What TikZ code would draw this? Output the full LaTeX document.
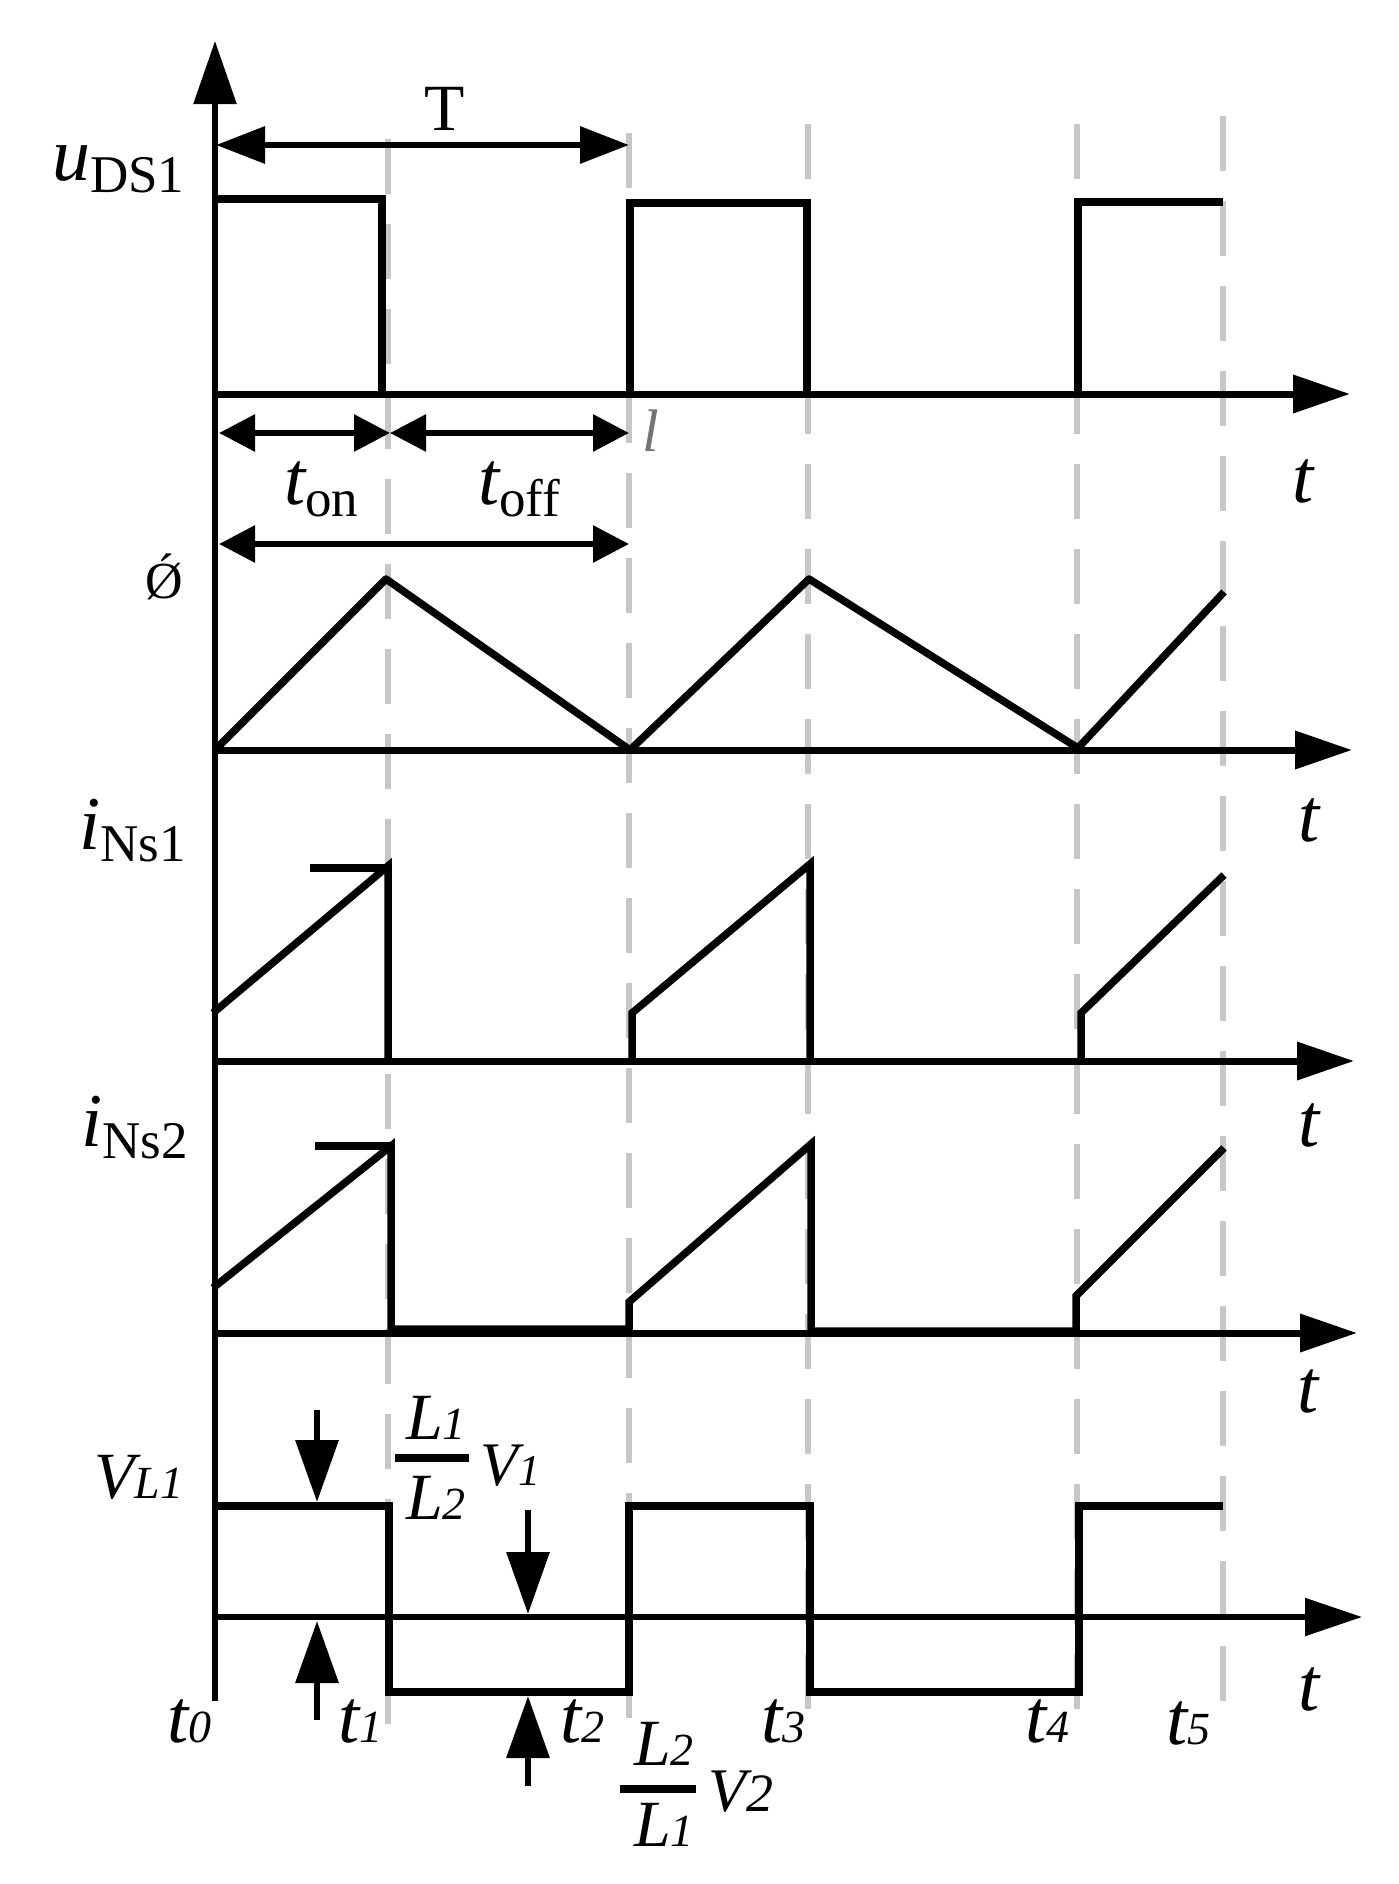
\documentclass[tikz,border=0pt]{standalone}
\usepackage{fontspec}
\setmainfont{Liberation Serif}
\usepackage{tikz}
\usetikzlibrary{arrows.meta,calc}
\tikzstyle{wave}=[line width=7.5pt,line cap=butt,line join=miter]
\tikzstyle{tline}=[line width=7pt,-{Triangle[length=57pt,width=37pt]}]
\tikzstyle{guide}=[line width=6pt,color=black!22,dash pattern=on 55pt off 30pt]
\tikzstyle{span}=[line width=6pt,{Triangle[length=36pt,width=36pt]}-{Triangle[length=36pt,width=36pt]}]
\tikzstyle{pin}=[line width=6.5pt,-{Triangle[length=62pt,width=42pt]}]
\tikzstyle{lbl}=[inner sep=0pt,anchor=base west]
\newcommand{\bigit}[1]{{\fontsize{76}{76}\selectfont\itshape #1}}
\newcommand{\lowrm}[1]{\raisebox{-12pt}{\fontsize{53}{53}\selectfont #1}}
\newcommand{\midit}[1]{{\fontsize{66}{66}\selectfont\itshape #1}}
\newcommand{\numit}[1]{{\fontsize{46}{46}\selectfont\itshape #1}}

\begin{document}
\begin{tikzpicture}[x=1pt,y=-1pt]
	\useasboundingbox (0,0) rectangle (1398,1884);

	\coordinate (g1a) at (388,139);
	\coordinate (g1b) at (388,1725);
	\coordinate (g2a) at (629,133);
	\coordinate (g2b) at (629,1720);
	\coordinate (g3a) at (808,124);
	\coordinate (g3b) at (808,1711);
	\coordinate (g4a) at (1077,124);
	\coordinate (g4b) at (1077,1710);
	\coordinate (g5a) at (1223,116);
	\coordinate (g5b) at (1223,1702);

	\draw[guide] (g1a) -- (g1b);
	\draw[guide] (g2a) -- (g2b);
	\draw[guide] (g3a) -- (g3b);
	\draw[guide] (g4a) -- (g4b);
	\draw[guide] (g5a) -- (g5b);

	% axes
	\coordinate (o) at (215,1701);
	\coordinate (top) at (215,41);
	\coordinate (a1) at (215,394);
	\coordinate (a2) at (215,750);
	\coordinate (a3) at (213,1061);
	\coordinate (a4) at (213,1333);
	\coordinate (a5) at (215,1617);
	\coordinate (e1) at (1350,394);
	\coordinate (e2) at (1352,750);
	\coordinate (e3) at (1354,1061);
	\coordinate (e4) at (1357,1333);
	\coordinate (e5) at (1362,1617);

	\draw[line width=5.5pt,-{Triangle[length=63pt,width=42pt]}] (o) -- (top);
	\draw[tline] (a1) -- (e1);
	\draw[tline] (a2) -- (e2);
	\draw[tline] (a3) -- (e3);
	\draw[tline] (a4) -- (e4);
	\draw[tline,line width=5.5pt] (a5) -- (e5);

	% waveforms
	\draw[wave] (215,199) -- (382,199) -- (382,394);
	\draw[wave] (630,394) -- (630,203) -- (807,203) -- (807,394);
	\draw[wave] (1078,394) -- (1078,202) -- (1223,202);

	\draw[wave,line join=round] (215,750) -- (386,579) -- (630,750) -- (809,579) -- (1078,748) -- (1224,592);

	\draw[wave] (310,868) -- (390,868);
	\draw[wave] (213,1013) -- (388,866) -- (388,1061);
	\draw[wave] (632,1061) -- (632,1013) -- (810,864) -- (810,1061);
	\draw[wave] (1081,1061) -- (1081,1013) -- (1224,875);

	\draw[wave] (315,1146) -- (395,1146);
	\draw[wave] (213,1288) -- (391,1146) -- (391,1329) -- (629,1329) -- (629,1302) -- (811,1144) -- (811,1331) -- (1076,1331) -- (1076,1296) -- (1224,1148);

	\draw[wave] (215,1506) -- (389,1506) -- (389,1692) -- (629,1692) -- (629,1506) -- (810,1506) -- (810,1692) -- (1079,1692) -- (1079,1506) -- (1223,1506);

	% time spans
	\coordinate (sa) at (216,145);
	\coordinate (sb) at (629,145);
	\coordinate (sc) at (219,433);
	\coordinate (sd) at (390,433);
	\coordinate (se) at (629,433);
	\coordinate (sf) at (219,544);
	\coordinate (sg) at (629,544);

	\draw[line width=6.5pt,{Triangle[length=49pt,width=36pt]}-{Triangle[length=49pt,width=36pt]}] (sa) -- (sb);
	\draw[span] (sc) -- (sd);
	\draw[span] (sd) -- (se);
	\draw[span] (sf) -- (sg);

	% level marks
	\coordinate (p1a) at (317,1410);
	\coordinate (p1b) at (317,1502);
	\coordinate (p2a) at (317,1720);
	\coordinate (p2b) at (317,1621);
	\coordinate (p3a) at (528,1510);
	\coordinate (p3b) at (528,1614);
	\coordinate (p4a) at (528,1786);
	\coordinate (p4b) at (528,1696);

	\draw[pin] (p1a) -- (p1b);
	\draw[pin] (p2a) -- (p2b);
	\draw[pin] (p3a) -- (p3b);
	\draw[pin] (p4a) -- (p4b);

	% fraction bars
	\draw[wave] (395,1458) -- (469,1458);
	\draw[wave] (620,1789) -- (696,1789);

	% labels
	\node[lbl] (T) at (424,130) {\fontsize{66}{66}\selectfont T};
	\node[lbl] (uds) at (52,180) {\bigit{u}\lowrm{DS1}};
	\node[lbl] (ton) at (284,504) {\bigit{t}\lowrm{on}};
	\node[lbl] (toff) at (478,504) {\bigit{t}\lowrm{off}};
	\node[lbl,color=black!55] (mark) at (642,451) {\fontsize{60}{60}\selectfont\itshape l};
	\node[lbl] (phi) at (145,598) {\fontsize{52}{52}\selectfont Ǿ};
	\node[lbl] (ins1) at (79,849) {\bigit{i}\lowrm{Ns1}};
	\node[lbl] (ins2) at (81,1146) {\bigit{i}\lowrm{Ns2}};
	\node[lbl] (vl) at (94,1498) {\midit{V}\numit{L1}};

	\node[lbl] (t1a) at (1292,502) {\bigit{t}};
	\node[lbl] (t2a) at (1298,841) {\bigit{t}};
	\node[lbl] (t3a) at (1298,1146) {\bigit{t}};
	\node[lbl] (t4a) at (1297,1412) {\bigit{t}};
	\node[lbl] (t5a) at (1298,1710) {\bigit{t}};

	\node[lbl] (t0) at (167,1742) {\bigit{t}\numit{0}};
	\node[lbl] (t1) at (338,1742) {\bigit{t}\numit{1}};
	\node[lbl] (t2) at (560,1742) {\bigit{t}\numit{2}};
	\node[lbl] (t3) at (761,1742) {\bigit{t}\numit{3}};
	\node[lbl] (t4) at (1025,1742) {\bigit{t}\numit{4}};
	\node[lbl] (t5) at (1166,1744) {\bigit{t}\numit{5}};

	\node[lbl] (l1a) at (406,1439) {\midit{L}\numit{1}};
	\node[lbl] (l2a) at (406,1519) {\midit{L}\numit{2}};
	\node[lbl] (v1) at (480,1485) {\fontsize{62}{62}\selectfont\itshape V{\fontsize{44}{44}\selectfont 1}};
	\node[lbl] (l2b) at (634,1765) {\midit{L}\numit{2}};
	\node[lbl] (l1b) at (634,1846) {\midit{L}\numit{1}};
	\node[lbl] (v2) at (708,1811) {\fontsize{62}{62}\selectfont\itshape V{\fontsize{54}{54}\selectfont 2}};
\end{tikzpicture}
\end{document}
